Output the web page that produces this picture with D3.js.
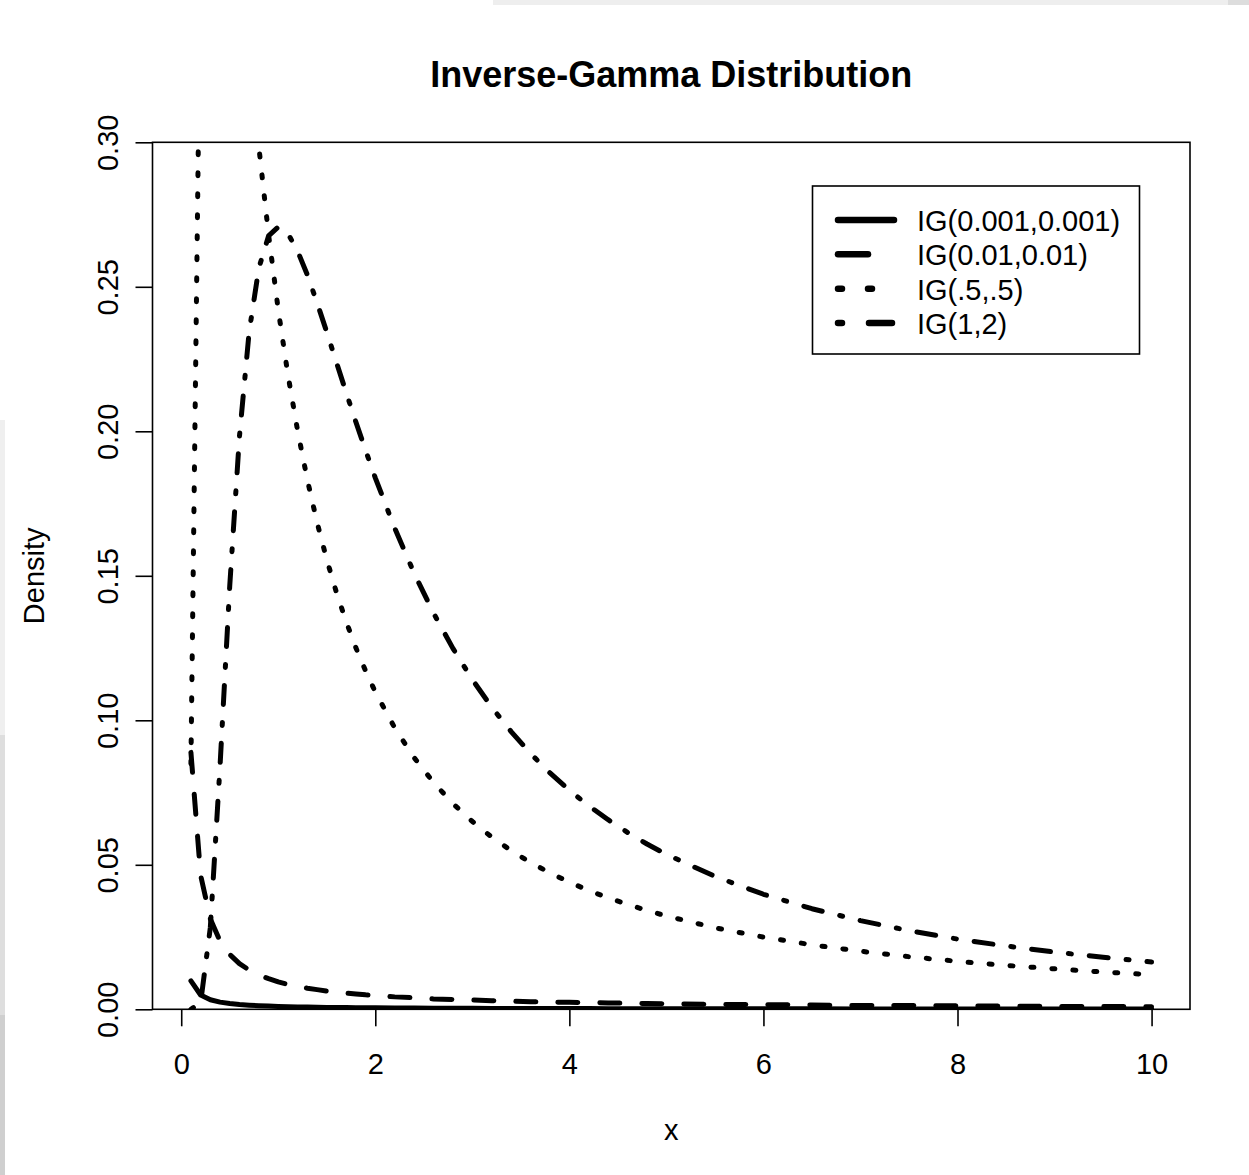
<!DOCTYPE html>
<html>
<head>
<meta charset="utf-8">
<script src="https://cdn.jsdelivr.net/npm/d3@7"></script>
<style>
  body { margin: 0; background: #fff; }
  svg text { font-family: "Liberation Sans", Arial, sans-serif; fill: #000; }
</style>
</head>
<body>
<div id="chart"></div>
<script>
// valores (densidades)
const xs = [0.1, 0.2, 0.3, 0.4, 0.5, 0.6, 0.7, 0.8, 0.9, 1.0,
            1.1, 1.2, 1.3, 1.4, 1.5, 1.6, 1.7, 1.8, 1.9, 2.0,
            2.2, 2.4, 2.6, 2.8, 3.0, 3.2, 3.4, 3.6, 3.8, 4.0,
            4.2, 4.4, 4.6, 4.8, 5.0,
            5.5, 6.0, 6.5, 7.0, 7.5, 8.0, 8.5, 9.0, 9.5, 10];

const ig0001 = [0.00986, 0.00495, 0.00331, 0.00248, 0.00198, 0.00165, 0.00142, 0.00124, 0.00110, 0.00099,
                0.00090, 0.00083, 0.00076, 0.00071, 0.00066, 0.00062, 0.00058, 0.00055, 0.00052, 0.00050,
                0.00045, 0.00041, 0.00038, 0.00035, 0.00033, 0.00031, 0.00029, 0.00028, 0.00026, 0.00025,
                0.00024, 0.00023, 0.00022, 0.00021, 0.00020,
                0.00018, 0.00017, 0.00015, 0.00014, 0.00013, 0.00012, 0.00012, 0.00011, 0.00010, 0.00010];

const ig001 = [0.0889, 0.0464, 0.0313, 0.0236, 0.0190, 0.0158, 0.0136, 0.0119, 0.0106, 0.0095,
               0.0086, 0.0079, 0.0073, 0.0068, 0.0063, 0.0059, 0.0056, 0.0053, 0.0050, 0.0048,
               0.0043, 0.0040, 0.0036, 0.0034, 0.0032, 0.0030, 0.0028, 0.0026, 0.0025, 0.0024,
               0.0023, 0.0022, 0.0021, 0.0020, 0.0019,
               0.0017, 0.0016, 0.0015, 0.0013, 0.0013, 0.0012, 0.0011, 0.0010, 0.0010, 0.0009];

const ig05 = [0.0850, 0.3661, 0.4586, 0.4518, 0.4151, 0.3731, 0.3335, 0.2984, 0.2681, 0.2420,
              0.2195, 0.2001, 0.1832, 0.1685, 0.1556, 0.1442, 0.1341, 0.1251, 0.1171, 0.1098,
              0.0974, 0.0871, 0.0785, 0.0712, 0.0650, 0.0596, 0.0549, 0.0508, 0.0472, 0.0440,
              0.0411, 0.0386, 0.0363, 0.0342, 0.0323,
              0.0282, 0.0250, 0.0223, 0.0201, 0.0182, 0.0166, 0.0152, 0.0140, 0.0129, 0.0120];

const ig12 = [0.0000, 0.0023, 0.0283, 0.0842, 0.1465, 0.1982, 0.2344, 0.2565, 0.2676, 0.2707,
              0.2684, 0.2623, 0.2541, 0.2445, 0.2343, 0.2238, 0.2134, 0.2032, 0.1934, 0.1839,
              0.1665, 0.1509, 0.1371, 0.1249, 0.1141, 0.1045, 0.0961, 0.0885, 0.0818, 0.0758,
              0.0704, 0.0656, 0.0612, 0.0572, 0.0536,
              0.0460, 0.0398, 0.0348, 0.0307, 0.0272, 0.0243, 0.0219, 0.0198, 0.0180, 0.0164];

const seriesNames = ["IG(0.001,0.001)", "IG(0.01,0.01)", "IG(.5,.5)", "IG(1,2)"];
const seriesValues = [ig0001, ig001, ig05, ig12];
const xTicks = [0, 2, 4, 6, 8, 10];
const yTicks = [0, 0.05, 0.10, 0.15, 0.20, 0.25, 0.30];

// estilos de linha (tipo R: solid, dashed, dotted, dotdash)
const dashPlot = [null, "20,22", "3,18", "3,18,19,18"];
const dashLegend = [null, "30,30", "4,26", "4,27,23,27"];

const W = 1249, H = 1175;
const box = { left: 152.5, right: 1190, top: 142.3, bottom: 1009.3 };

const svg = d3.select("#chart").append("svg")
    .attr("width", W)
    .attr("height", H);

svg.append("rect").attr("width", W).attr("height", H).attr("fill", "#fff");

// faixas cinzas da captura de tela
svg.append("rect").attr("x", 493).attr("y", 0).attr("width", W - 493).attr("height", 5).attr("fill", "#eeeeee");
svg.append("rect").attr("x", 1228).attr("y", 0).attr("width", 21).attr("height", 5).attr("fill", "#dddddd");
svg.append("rect").attr("x", 0).attr("y", 420).attr("width", 5).attr("height", 315).attr("fill", "#efefef");
svg.append("rect").attr("x", 0).attr("y", 735).attr("width", 5).attr("height", 280).attr("fill", "#dedede");
svg.append("rect").attr("x", 0).attr("y", 1015).attr("width", 5).attr("height", 160).attr("fill", "#cfcfcf");

// escalas
const xScale = d3.scaleLinear()
    .domain([-0.296, 10.396])
    .range([box.left, box.right]);

const yScale = d3.scaleLinear()
    .domain([0, 0.30])
    .range([box.bottom, box.top]);

svg.append("defs").append("clipPath")
    .attr("id", "plot-clip")
    .append("rect")
    .attr("x", box.left)
    .attr("y", box.top)
    .attr("width", box.right - box.left)
    .attr("height", box.bottom - box.top);

// curvas
const line = d3.line()
    .x((d, i) => xScale(xs[i]))
    .y(d => yScale(d));

const curves = svg.append("g").attr("clip-path", "url(#plot-clip)");

seriesValues.forEach((vals, k) => {
    curves.append("path")
        .datum(vals)
        .attr("d", line)
        .attr("fill", "none")
        .attr("stroke", "#000")
        .attr("stroke-width", 5)
        .attr("stroke-linecap", "round")
        .attr("stroke-linejoin", "round")
        .attr("stroke-dasharray", dashPlot[k]);
});

// caixa do gráfico
svg.append("rect")
    .attr("x", box.left)
    .attr("y", box.top)
    .attr("width", box.right - box.left)
    .attr("height", box.bottom - box.top)
    .attr("fill", "none")
    .attr("stroke", "#000")
    .attr("stroke-width", 1.6);

// eixos
const xAxis = d3.axisBottom(xScale)
    .tickValues(xTicks)
    .tickSize(17)
    .tickPadding(27)
    .tickFormat(d3.format("d"));

const gx = svg.append("g")
    .attr("transform", `translate(0,${box.bottom})`)
    .call(xAxis);

const yAxis = d3.axisLeft(yScale)
    .tickValues(yTicks)
    .tickSize(17)
    .tickFormat(d3.format(".2f"));

const gy = svg.append("g")
    .attr("transform", `translate(${box.left},0)`)
    .call(yAxis);

[gx, gy].forEach(g => {
    g.select(".domain").remove();
    g.selectAll(".tick line").attr("stroke", "#000").attr("stroke-width", 1.6);
    g.selectAll(".tick text")
        .attr("font-size", 29)
        .attr("font-family", "Liberation Sans, Arial, sans-serif")
        .attr("fill", "#000");
});

gy.selectAll(".tick text")
    .attr("x", null)
    .attr("dy", null)
    .attr("text-anchor", "middle")
    .attr("transform", "translate(-35,0) rotate(-90)");

// títulos
svg.append("text")
    .attr("x", (box.left + box.right) / 2)
    .attr("y", 87)
    .attr("text-anchor", "middle")
    .attr("font-size", 36)
    .attr("font-weight", "bold")
    .text("Inverse-Gamma Distribution");

svg.append("text")
    .attr("x", (box.left + box.right) / 2)
    .attr("y", 1140)
    .attr("text-anchor", "middle")
    .attr("font-size", 29)
    .text("x");

svg.append("text")
    .attr("transform", `translate(44,${(box.top + box.bottom) / 2}) rotate(-90)`)
    .attr("text-anchor", "middle")
    .attr("font-size", 29)
    .text("Density");

// legenda
const legend = svg.append("g").attr("class", "legend");

legend.append("rect")
    .attr("x", 812.5)
    .attr("y", 186)
    .attr("width", 327)
    .attr("height", 168)
    .attr("fill", "#fff")
    .attr("stroke", "#000")
    .attr("stroke-width", 1.6);

const rowY = d3.scaleLinear().domain([0, 3]).range([220, 323]);

seriesNames.forEach((name, k) => {
    const y = rowY(k);
    legend.append("line")
        .attr("x1", 838)
        .attr("x2", 894)
        .attr("y1", y)
        .attr("y2", y)
        .attr("stroke", "#000")
        .attr("stroke-width", 6.5)
        .attr("stroke-linecap", "round")
        .attr("stroke-dasharray", dashLegend[k]);
    legend.append("text")
        .attr("x", 917)
        .attr("y", y + 11)
        .attr("font-size", 29)
        .text(name);
});
</script>
</body>
</html>
